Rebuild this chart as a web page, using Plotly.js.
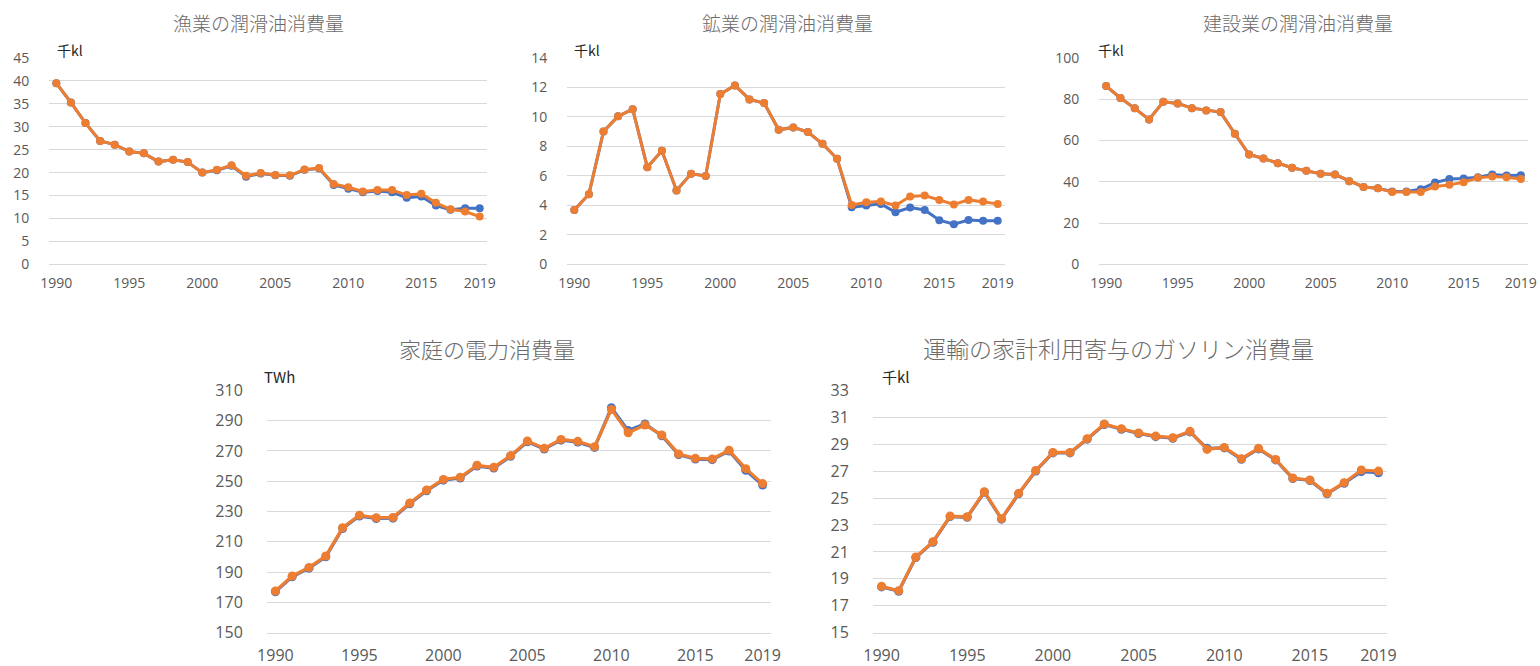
<!DOCTYPE html>
<html>
<head>
<meta charset="utf-8">
<script src="https://cdn.plot.ly/plotly-3.0.1.min.js"></script>
<style>
html,body{margin:0;padding:0;background:#fff;}
#chart{width:1540px;height:666px;}
</style>
</head>
<body>
<div id="chart"></div>
<script>
// ---- data ----
const years = [];
for (let y = 1990; y <= 2019; y++) years.push(y);
const tickYears = [1990, 1995, 2000, 2005, 2010, 2015, 2019];

const titles = ["漁業の潤滑油消費量", "鉱業の潤滑油消費量", "建設業の潤滑油消費量", "家庭の電力消費量", "運輸の家計利用寄与のガソリン消費量"];
const units = ["千kl", "千kl", "千kl", "TWh", "千kl"];

const fishBlue   = [39.5,35.3,30.8,26.9,26.1,24.6,24.2,22.4,22.8,22.3,20.0,20.5,21.5,19.1,19.8,19.4,19.3,20.6,20.9,17.3,16.5,15.7,16.0,15.7,14.5,14.8,12.8,11.9,12.2,12.2];
const fishOrange = [39.5,35.3,30.8,26.9,26.1,24.6,24.2,22.4,22.8,22.3,20.0,20.6,21.6,19.3,19.9,19.5,19.4,20.7,21.0,17.5,16.8,15.9,16.2,16.2,15.1,15.4,13.4,12.0,11.5,10.4];

const mineBlue   = [3.69,4.76,9.02,10.04,10.53,6.59,7.70,5.01,6.14,6.00,11.55,12.14,11.19,10.94,9.13,9.29,8.97,8.18,7.16,3.87,3.99,4.10,3.53,3.85,3.69,2.99,2.72,3.01,2.95,2.95];
const mineOrange = [3.69,4.76,9.02,10.04,10.53,6.59,7.70,5.01,6.14,6.00,11.55,12.14,11.19,10.94,9.13,9.29,8.97,8.18,7.16,4.03,4.21,4.26,3.99,4.60,4.67,4.37,4.06,4.37,4.26,4.10];

const consBlue   = [86.4,80.6,75.6,70.2,78.8,78.0,75.7,74.6,73.8,63.3,53.2,51.3,49.0,46.8,45.3,43.9,43.5,40.3,37.5,36.9,35.3,35.3,36.4,39.6,41.3,41.6,42.2,43.5,43.0,43.2];
const consOrange = [86.4,80.6,75.6,70.2,78.8,78.0,75.7,74.6,73.8,63.3,53.2,51.3,49.0,46.8,45.3,43.9,43.5,40.3,37.5,36.9,35.0,35.1,35.0,37.7,38.5,39.8,41.9,42.6,42.2,41.4];

const elecBlue   = [177.0,186.9,192.6,200.1,218.8,227.0,225.4,225.6,235.1,243.7,250.7,252.1,260.0,258.7,266.4,276.0,271.2,277.1,275.8,272.3,298.5,283.4,287.8,280.0,267.5,264.6,264.2,269.9,257.2,247.5];
const elecOrange = [177.5,187.4,193.1,200.6,219.3,227.5,225.9,226.1,235.6,244.2,251.2,252.6,260.5,259.2,266.9,276.5,271.7,277.6,276.3,272.8,297.4,282.0,287.1,280.5,268.0,265.1,264.7,270.4,258.3,248.4];

const gasBlue    = [18.40,18.08,20.58,21.72,23.62,23.57,25.43,23.43,25.31,27.01,28.35,28.35,29.37,30.46,30.11,29.79,29.56,29.44,29.91,28.69,28.72,27.88,28.65,27.83,26.45,26.30,25.31,26.10,26.96,26.88];
const gasOrange  = [18.44,18.12,20.62,21.76,23.66,23.61,25.47,23.47,25.35,27.05,28.39,28.39,29.41,30.50,30.15,29.83,29.60,29.48,29.95,28.61,28.76,27.92,28.69,27.87,26.49,26.34,25.35,26.14,27.08,27.00];

const yRanges = [[0,45],[0,14],[0,100],[150,310],[15,33]];
const yDticks = [5,2,20,20,2];

// ---- layout geometry (pixels) ----
const W = 1540, H = 666;
const boxes = [
  {l:49,  r:487,  t:58,    b:264.3, tf:19, af:14, ux:55,  uy:50,  tx:258,  ty:22},
  {l:567, r:1005, t:58,    b:264.3, tf:19, af:14, ux:572, uy:50,  tx:788,  ty:22},
  {l:1099,r:1528, t:58,    b:264.3, tf:19, af:14, ux:1096,uy:50,  tx:1298, ty:22},
  {l:267, r:771,  t:390.3, b:632.7, tf:22, af:16, ux:262, uy:377, tx:487,  ty:348},
  {l:873, r:1387, t:390.3, b:632.7, tf:23, af:16, ux:880, uy:377, tx:1118, ty:348}
];

const blue = '#4472C4', orange = '#ED7D31';
const series = [[fishBlue,fishOrange],[mineBlue,mineOrange],[consBlue,consOrange],[elecBlue,elecOrange],[gasBlue,gasOrange]];

const traces = [];
const layout = {
  width: W, height: H,
  margin: {l:0, r:0, t:0, b:0},
  paper_bgcolor: '#fff', plot_bgcolor: '#fff',
  showlegend: false,
  font: {family: '"Noto Sans CJK JP", "Open Sans", sans-serif', color: '#595959'},
  annotations: []
};

boxes.forEach((bx, i) => {
  const n = i + 1;
  const xa = n === 1 ? 'x' : 'x' + n;
  const ya = n === 1 ? 'y' : 'y' + n;
  const small = i < 3;
  [[series[i][0], blue], [series[i][1], orange]].forEach(([vals, col]) => {
    traces.push({
      x: years, y: vals, type: 'scatter', mode: 'lines+markers',
      xaxis: xa, yaxis: ya,
      line: {color: col, width: small ? 3 : 3.2},
      marker: {color: col, size: small ? 8 : 9},
      hoverinfo: 'x+y'
    });
  });
  layout['xaxis' + (n === 1 ? '' : n)] = {
    domain: [bx.l / W, bx.r / W],
    anchor: ya,
    range: [1989.5, 2019.5],
    tickmode: 'array', tickvals: tickYears, ticktext: tickYears.map(String),
    showgrid: false, zeroline: false,
    showline: true, linecolor: '#d9d9d9', linewidth: 1,
    ticks: 'outside', ticklen: small ? 6 : 8, tickcolor: 'rgba(0,0,0,0)',
    tickfont: {size: bx.af, color: '#595959', family: '"Open Sans", sans-serif'},
    fixedrange: true
  };
  layout['yaxis' + (n === 1 ? '' : n)] = {
    domain: [1 - bx.b / H, 1 - bx.t / H],
    anchor: xa,
    range: yRanges[i], dtick: yDticks[i], tick0: yRanges[i][0],
    showgrid: true, gridcolor: '#d9d9d9', gridwidth: 1,
    zeroline: false, showline: false,
    ticks: 'outside', ticklen: small ? 16 : 20, tickcolor: 'rgba(0,0,0,0)',
    tickfont: {size: bx.af, color: '#595959', family: '"Open Sans", sans-serif'},
    fixedrange: true
  };
  layout.annotations.push({
    xref: 'paper', yref: 'paper', x: bx.tx / W, y: 1 - bx.ty / H,
    xanchor: 'center', yanchor: 'middle', showarrow: false,
    text: titles[i],
    font: {size: bx.tf, color: '#6b6b6b', weight: 300, family: '"Noto Sans CJK JP", sans-serif'}
  });
  layout.annotations.push({
    xref: 'paper', yref: 'paper', x: bx.ux / W, y: 1 - bx.uy / H,
    xanchor: 'left', yanchor: 'middle', showarrow: false,
    text: units[i],
    font: {size: small ? 14 : 15, color: '#262626', family: '"Noto Sans CJK JP", sans-serif'}
  });
});

Plotly.newPlot('chart', traces, layout, {displayModeBar: false, staticPlot: true});
</script>
</body>
</html>
